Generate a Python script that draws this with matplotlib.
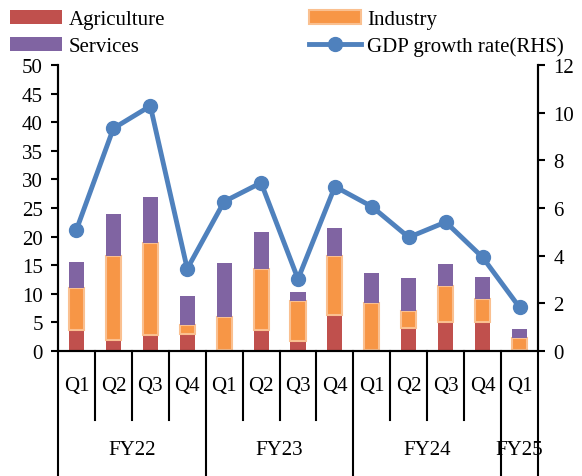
import matplotlib.pyplot as plt
import numpy as np

quarters = ["Q1", "Q2", "Q3", "Q4", "Q1", "Q2", "Q3", "Q4", "Q1", "Q2", "Q3", "Q4", "Q1"]
fiscal_years = ["FY22", "FY23", "FY24", "FY25"]
fy_sizes = [4, 4, 4, 1]

agriculture = [3.7, 2.0, 2.8, 2.9, 0.2, 3.6, 1.75, 6.35, 0.1, 3.95, 5.0, 5.1, 0.1]
industry = [7.4, 14.6, 16.1, 1.65, 5.7, 10.7, 6.95, 10.25, 8.3, 3.0, 6.35, 4.05, 2.1]
services = [4.45, 7.35, 8.1, 5.05, 9.5, 6.5, 1.6, 4.9, 5.2, 5.8, 3.85, 3.8, 1.65]
gdp_growth = [5.09, 9.34, 10.28, 3.45, 6.27, 7.06, 3.02, 6.9, 6.06, 4.77, 5.41, 3.93, 1.83]

plt.rcParams["font.family"] = ["Liberation Serif", "DejaVu Serif"]
plt.rcParams["font.size"] = 15

fig = plt.figure(figsize=(5.82, 4.77), dpi=100)
ax = fig.add_axes([58 / 582, 125 / 477, 480 / 582, 286 / 477])
ax2 = ax.twinx()

x = np.arange(len(quarters))
agri = np.array(agriculture)
ind = np.array(industry)
srv = np.array(services)
w = 0.41

b1 = ax.bar(x, agri, w, color="#C0504D", label="Agriculture", zorder=2)
b2 = ax.bar(x, ind, w, bottom=agri, color="#F79646", edgecolor="#FAC090",
            linewidth=1.5, label="Industry", zorder=2)
b3 = ax.bar(x, srv, w, bottom=agri + ind, color="#8064A2", label="Services", zorder=2)
ln, = ax2.plot(x, gdp_growth, color="#4F81BD", lw=3.5, marker="o", ms=10,
               label="GDP growth rate(RHS)", zorder=3)

ax.set_xlim(-0.5, len(quarters) - 0.5)
ax.set_ylim(0, 50)
ax.set_yticks(range(0, 51, 5))
ax2.set_ylim(0, 12)
ax2.set_yticks(range(0, 13, 2))

for a in (ax, ax2):
    a.spines["top"].set_visible(False)
    a.spines["bottom"].set_linewidth(1.5)
    a.spines["left"].set_linewidth(1.5)
    a.spines["right"].set_linewidth(1.5)
    a.tick_params(axis="y", direction="out", length=5, width=1.5, pad=6)
ax.set_xticks([])

# two-level category axis
tr = ax.get_xaxis_transform()
for i, q in enumerate(quarters):
    ax.text(i, -0.12, q, transform=tr, ha="center", va="center")
start = 0
bounds = [0]
for fy, n in zip(fiscal_years, fy_sizes):
    ax.text(start + (n - 1) / 2, -0.345, fy, transform=tr, ha="center", va="center")
    start += n
    bounds.append(start)
for b in range(len(quarters) + 1):
    y_end = -0.44 if b in bounds else -0.24
    ax.plot([b - 0.5, b - 0.5], [0, y_end], transform=tr, color="black",
            lw=1.5, clip_on=False)

handles = [b1, b3, b2, ln]
labels = [h.get_label() for h in handles]
fig.legend(handles, labels, ncol=2, loc="upper left", bbox_to_anchor=(0.003, 0.995),
           frameon=False, handlelength=2.5, handletextpad=0.3, columnspacing=6.9,
           labelspacing=0.35, borderaxespad=0.0)

fig.savefig("out.png", dpi=100)
